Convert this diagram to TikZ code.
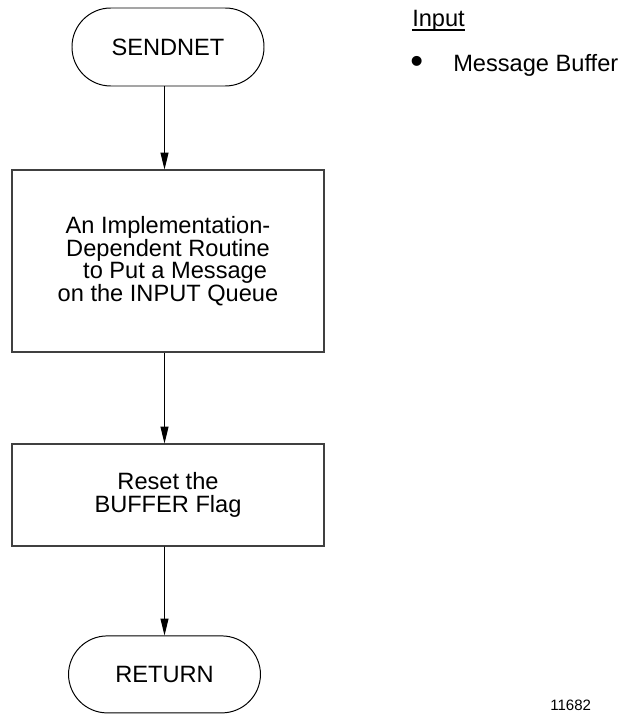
\documentclass[tikz,border=0pt]{standalone}
\usepackage{fontspec}
\setmainfont{Liberation Sans}
\usepackage{tikz}
\usetikzlibrary{arrows.meta,positioning}
\tikzset{
  fterm/.style={draw=black,line width=0.7pt,rounded corners=0.97cm,minimum width=4.8cm,minimum height=1.95cm,inner sep=0pt},
  fbox/.style={draw=black!75,line width=0.8pt,minimum width=7.8cm,align=center,inner sep=0pt},
  farr/.style={-{Triangle[length=0.42cm,width=0.2cm]},line width=0.7pt,draw=black},
  ftext/.style={inner sep=0pt,anchor=base west}
}

\begin{document}
\begin{tikzpicture}[font=\fontsize{16.8}{16.1}\selectfont]
  \useasboundingbox (0,0) rectangle (15.725,-17.875);
  \node[fterm] (sendnet) at (4.2,-1.175) {SENDNET};
  \node[fbox,minimum height=4.55cm] (impl) at (4.2,-6.525) {An Implementation-\\ Dependent Routine\\ \hspace*{0.6em}to Put a Message\\ on the INPUT Queue};
  \node[fbox,minimum height=2.55cm] (reset) at (4.2,-12.375) {Reset the\\ BUFFER Flag};
  \node[fterm,minimum height=1.925cm] (return) at (4.1125,-16.86) {RETURN};
  \draw[farr] ([xshift=-0.875mm]sendnet.south) -- ([xshift=-0.875mm]impl.north);
  \draw[farr] ([xshift=-0.875mm]impl.south) -- ([xshift=-0.875mm]reset.north);
  \draw[farr] ([xshift=-0.875mm]reset.south) -- (return.north);
  \node[ftext] (input) at (10.3,-0.675) {Input};
  \draw[line width=0.9pt] ([yshift=-0.075cm]input.base west) -- ([yshift=-0.075cm]input.base east);
  \node[ftext,font=\fontsize{26}{26}\selectfont] (bullet) at (10.25,-1.85) {\textbullet};
  \node[ftext] (msgbuf) at (11.325,-1.8) {Message Buffer};
  \node[ftext,font=\fontsize{10.7}{12}\selectfont] (figno) at (13.75,-17.75) {11682};
\end{tikzpicture}
\end{document}
